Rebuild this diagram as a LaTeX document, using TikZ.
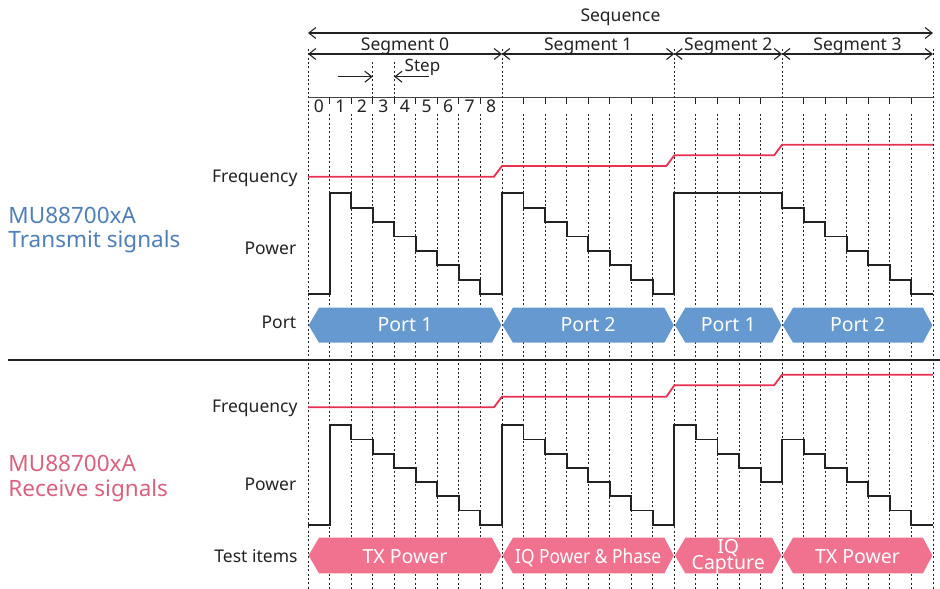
\documentclass[tikz,border=0pt]{standalone}
\usepackage{fontspec}
\usepackage{graphicx}
\setmainfont{Noto Sans}
\usetikzlibrary{arrows.meta}
\definecolor{bandblue}{HTML}{6699CF}
\definecolor{bandpink}{HTML}{F0728F}
\definecolor{txtblue}{HTML}{4F7FB8}
\definecolor{txtpink}{HTML}{D9617E}
\definecolor{freqred}{HTML}{E8304F}
\definecolor{ink}{HTML}{222222}
\begin{document}
\begin{tikzpicture}[x=1pt,y=-1pt,
  gridline/.style={line width=0.9pt, ink, dash pattern=on 2pt off 2.3pt},
  dimline/.style={line width=1.1pt, ink, {Straight Barb[length=7pt,width=11pt]}-{Straight Barb[length=7pt,width=11pt]}},
  steparrow/.style={line width=1.1pt, ink, -{Straight Barb[length=7pt,width=11pt]}},
  lbl/.style={font=\fontsize{17.5}{20}\selectfont, text=ink, inner sep=0pt},
  biglbl/.style={font=\fontsize{22.5}{25}\selectfont, inner sep=0pt, anchor=base west},
  bandtxt/.style={font=\fontsize{19.5}{20}\selectfont, text=white, inner sep=0pt, anchor=base},
  powerline/.style={line width=1.9pt, ink, line join=miter},
  freqline/.style={line width=1.8pt, freqred},
]
\useasboundingbox (0,0) rectangle (940,589);
\def\sx{21.55}
% boundaries
\coordinate (b0) at (308,0);
\coordinate (b1) at ({308+9*\sx},0);
\coordinate (b2) at ({308+17*\sx},0);
\coordinate (b3) at ({308+22*\sx},0);
\coordinate (b4) at ({308+29*\sx},0);

% grid lines
\foreach \k in {1,...,8,10,11,...,16,18,19,20,21,23,24,...,28}
  \draw[gridline] ({308+\k*\sx},114) -- ({308+\k*\sx},589);
\foreach \k in {0,9,17,22,29}
  \draw[gridline] ({308+\k*\sx},49) -- ({308+\k*\sx},589);
\foreach \k in {3,4}
  \draw[gridline] ({308+\k*\sx},62) -- ({308+\k*\sx},97);

% sequence / segments
\coordinate (sqa) at (308,33);
\coordinate (sqb) at ({308+29*\sx},33);
\draw[dimline] (sqa) -- (sqb);
\node[lbl, anchor=base] (seq) at (620.5,21.5) {Sequence};
\foreach \a/\b/\n in {0/9/0,9/17/1,17/22/2,22/29/3}{
  \coordinate (sa\n) at ({308+\a*\sx},54);
  \coordinate (sb\n) at ({308+\b*\sx},54);
  \draw[dimline] (sa\n) -- (sb\n);
  \node[lbl, anchor=base] (seg\n) at ({308+(\a+\b)*\sx/2},50) {Segment \n};
}
% step arrows
\coordinate (st1) at (337.7,76.7);
\coordinate (st2) at ({308+3*\sx},76.7);
\coordinate (st3) at (429.3,76.7);
\coordinate (st4) at ({308+4*\sx},76.7);
\draw[steparrow] (st1) -- (st2);
\draw[steparrow] (st3) -- (st4);
\node[lbl, anchor=base, font=\fontsize{17}{20}\selectfont] (steplbl) at (422.5,71) {Step};

% tick row
\draw[line width=1.3pt, ink!85] (308,97.7) -- ({308+29*\sx},97.7);
\foreach \k in {1,...,8,10,11,...,16,18,19,20,21,23,24,...,28}
  \draw[line width=1pt, ink] ({308+\k*\sx},97.7) -- ({308+\k*\sx},104);
\foreach \k in {0,...,8}
  \node[lbl, anchor=base] (d\k) at ({308+(\k+0.5)*\sx},112.7) {\k};

% left labels
\node[lbl, anchor=base east] (fq1) at (297.7,182.7) {Frequency};
\node[lbl, anchor=base east] (pw1) at (296.5,254.3) {Power};
\node[lbl, anchor=base east] (pt1) at (296.5,328.3) {Port};
\node[lbl, anchor=base east] (fq2) at (297.7,412.7) {Frequency};
\node[lbl, anchor=base east] (pw2) at (296.5,490) {Power};
\node[lbl, anchor=base east] (ti2) at (297.7,562.7) {Test items};
\node[biglbl, text=txtblue] (mu1) at (8.3,223.3) {MU88700xA};
\node[biglbl, text=txtblue] (tx1) at (8.3,247.7) {Transmit signals};
\node[biglbl, text=txtpink] (mu2) at (8.3,471) {MU88700xA};
\node[biglbl, text=txtpink] (rx2) at (8.3,496) {Receive signals};

% separator
\coordinate (sepa) at (8,360);
\coordinate (sepb) at (940,360);
\draw[line width=1.2pt, ink] (sepa) -- (sepb);

% frequency lines
\draw[freqline] (308,176.7) -- ({308+9*\sx-8},176.7) -- ({308+9*\sx},166)
  -- ({308+17*\sx-8},166) -- ({308+17*\sx},155.3)
  -- ({308+22*\sx-8},155.3) -- ({308+22*\sx},144.7) -- ({308+29*\sx},144.7);
\draw[freqline] (308,407.3) -- ({308+9*\sx-8},407.3) -- ({308+9*\sx},396.7)
  -- ({308+17*\sx-8},396.7) -- ({308+17*\sx},385.3)
  -- ({308+22*\sx-8},385.3) -- ({308+22*\sx},374.7) -- ({308+29*\sx},374.7);

% power waveforms
\draw[powerline] (308,{193.3+7*14.4})
  \foreach \l [count=\k from 0] in {7,0,1,2,3,4,5,6,7, 0,1,2,3,4,5,6,7, 0,0,0,0,0, 1,2,3,4,5,6,7}
  { -- ({308+\k*\sx},{193.3+\l*14.4}) -- ({308+(\k+1)*\sx},{193.3+\l*14.4}) };
\draw[powerline] (308,{425.3+7*14.2})
  \foreach \l [count=\k from 0] in {7,0,1,2,3,4,5,6,7, 0,1,2,3,4,5,6,7, 0,1,2,3,4, 1,2,3,4,5,6,7}
  { -- ({308+\k*\sx},{425.3+\l*14.2}) -- ({308+(\k+1)*\sx},{425.3+\l*14.2}) };

% bands
\foreach \a/\b/\t [count=\i] in {0/9/Port 1,9/17/Port 2,17/22/Port 1,22/29/Port 2}{
  \fill[bandblue] ({308+\a*\sx+0.6},325.2) -- ({308+\a*\sx+11},307.7) -- ({308+\b*\sx-10},307.7)
    -- ({308+\b*\sx-0.6},325.2) -- ({308+\b*\sx-10},342.7) -- ({308+\a*\sx+11},342.7) -- cycle;
  \node[bandtxt] (port\i) at ({308+(\a+\b)*\sx/2},331.7) {\t};
}
\foreach \a/\b [count=\i] in {0/9,9/17,17/22,22/29}{
  \fill[bandpink] ({308+\a*\sx+0.6},555.5) -- ({308+\a*\sx+11},537.7) -- ({308+\b*\sx-10},537.7)
    -- ({308+\b*\sx-0.6},555.5) -- ({308+\b*\sx-10},573.3) -- ({308+\a*\sx+11},573.3) -- cycle;
}
\node[bandtxt] (ti1) at ({308+4.5*\sx},563.3) {TX Power};
\node[bandtxt] (ti2b) at ({308+13*\sx},563) {\scalebox{0.89}[1]{IQ Power \& Phase}};
\node[bandtxt] (ti3a) at ({308+19.5*\sx},553.5) {IQ};
\node[bandtxt] (ti3b) at ({308+19.5*\sx},569) {Capture};
\node[bandtxt] (ti4) at ({308+25.5*\sx},563.3) {TX Power};
\end{tikzpicture}
\end{document}
